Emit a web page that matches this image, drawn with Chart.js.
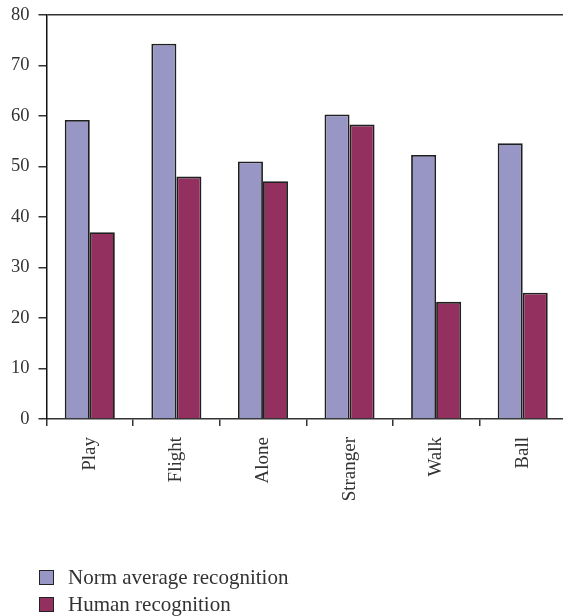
<!DOCTYPE html>
<html>
<head>
<meta charset="utf-8">
<script src="https://cdn.jsdelivr.net/npm/chart.js@4.4.0/dist/chart.umd.min.js"></script>
<style>
  html, body { margin: 0; padding: 0; background: #fff; overflow: hidden; }
  #wrap { position: relative; width: 572px; height: 616px; }
  #legend { position: absolute; left: 39px; top: 564px; font-family: "Liberation Serif", serif; font-size: 21px; color: #333; }
  .item { display: flex; align-items: center; height: 27px; }
  .box { width: 13px; height: 13px; border: 1px solid #222; margin-right: 14px; box-sizing: content-box; }
</style>
</head>
<body>
<div id="wrap">
  <canvas id="c" width="572" height="616"></canvas>
  <div id="legend"></div>
</div>
<script>
const categories = ["Play", "Flight", "Alone", "Stranger", "Walk", "Ball"];
const normAverage = [59.2, 74.3, 51.0, 60.3, 52.3, 54.6];
const humanRecognition = [37.0, 48.0, 47.1, 58.3, 23.2, 25.0];
const yTicks = [0, 10, 20, 30, 40, 50, 60, 70, 80];
const seriesNames = ["Norm average recognition", "Human recognition"];
const seriesColors = ["#9896c4", "#93305f"];

const textColor = "#333";

const chart = new Chart(document.getElementById("c"), {
  type: "bar",
  data: {
    labels: categories,
    datasets: [
      { label: seriesNames[0], data: normAverage, backgroundColor: seriesColors[0], borderColor: "#1f1f1f", borderWidth: 1.8 },
      { label: seriesNames[1], data: humanRecognition, backgroundColor: seriesColors[1], borderColor: "#1f1f1f", borderWidth: 1.8 }
    ]
  },
  options: {
    responsive: false,
    animation: false,
    layout: { padding: { top: 15, right: 6, left: 0, bottom: 0 } },
    plugins: { legend: { display: false }, tooltip: { enabled: false } },
    datasets: { bar: { categoryPercentage: 0.578, barPercentage: 1.0 } },
    scales: {
      x: {
        grid: { color: "transparent", tickColor: "#333", tickLength: 7, offset: true, lineWidth: 1.5 },
        border: { color: "#333", width: 1.5 },
        ticks: { font: { family: "Liberation Serif", size: 19 }, color: textColor, maxRotation: 90, minRotation: 90, padding: 11, autoSkip: false },
        afterFit: (s) => { s.height = 616 - 419; s.paddingLeft = 0; s.paddingRight = 0; }
      },
      y: {
        min: 0, max: 80,
        afterBuildTicks: (s) => { s.ticks = yTicks.map(v => ({ value: v })); },
        grid: {
          color: (ctx) => (ctx.tick && ctx.tick.value === 80) ? "#333" : "transparent",
          tickColor: "#333", tickLength: 8, lineWidth: 1.5
        },
        border: { color: "#111", width: 1.5 },
        ticks: { font: { family: "Liberation Serif", size: 18.5 }, color: textColor, padding: 9 },
        afterFit: (s) => { s.width = 46.5; s.paddingTop = 0; s.paddingBottom = 0; }
      }
    }
  }
});

const legend = document.getElementById("legend");
chart.data.datasets.forEach((ds) => {
  const item = document.createElement("div");
  item.className = "item";
  const box = document.createElement("span");
  box.className = "box";
  box.style.background = ds.backgroundColor;
  const txt = document.createElement("span");
  txt.textContent = ds.label;
  item.appendChild(box);
  item.appendChild(txt);
  legend.appendChild(item);
});
</script>
</body>
</html>
